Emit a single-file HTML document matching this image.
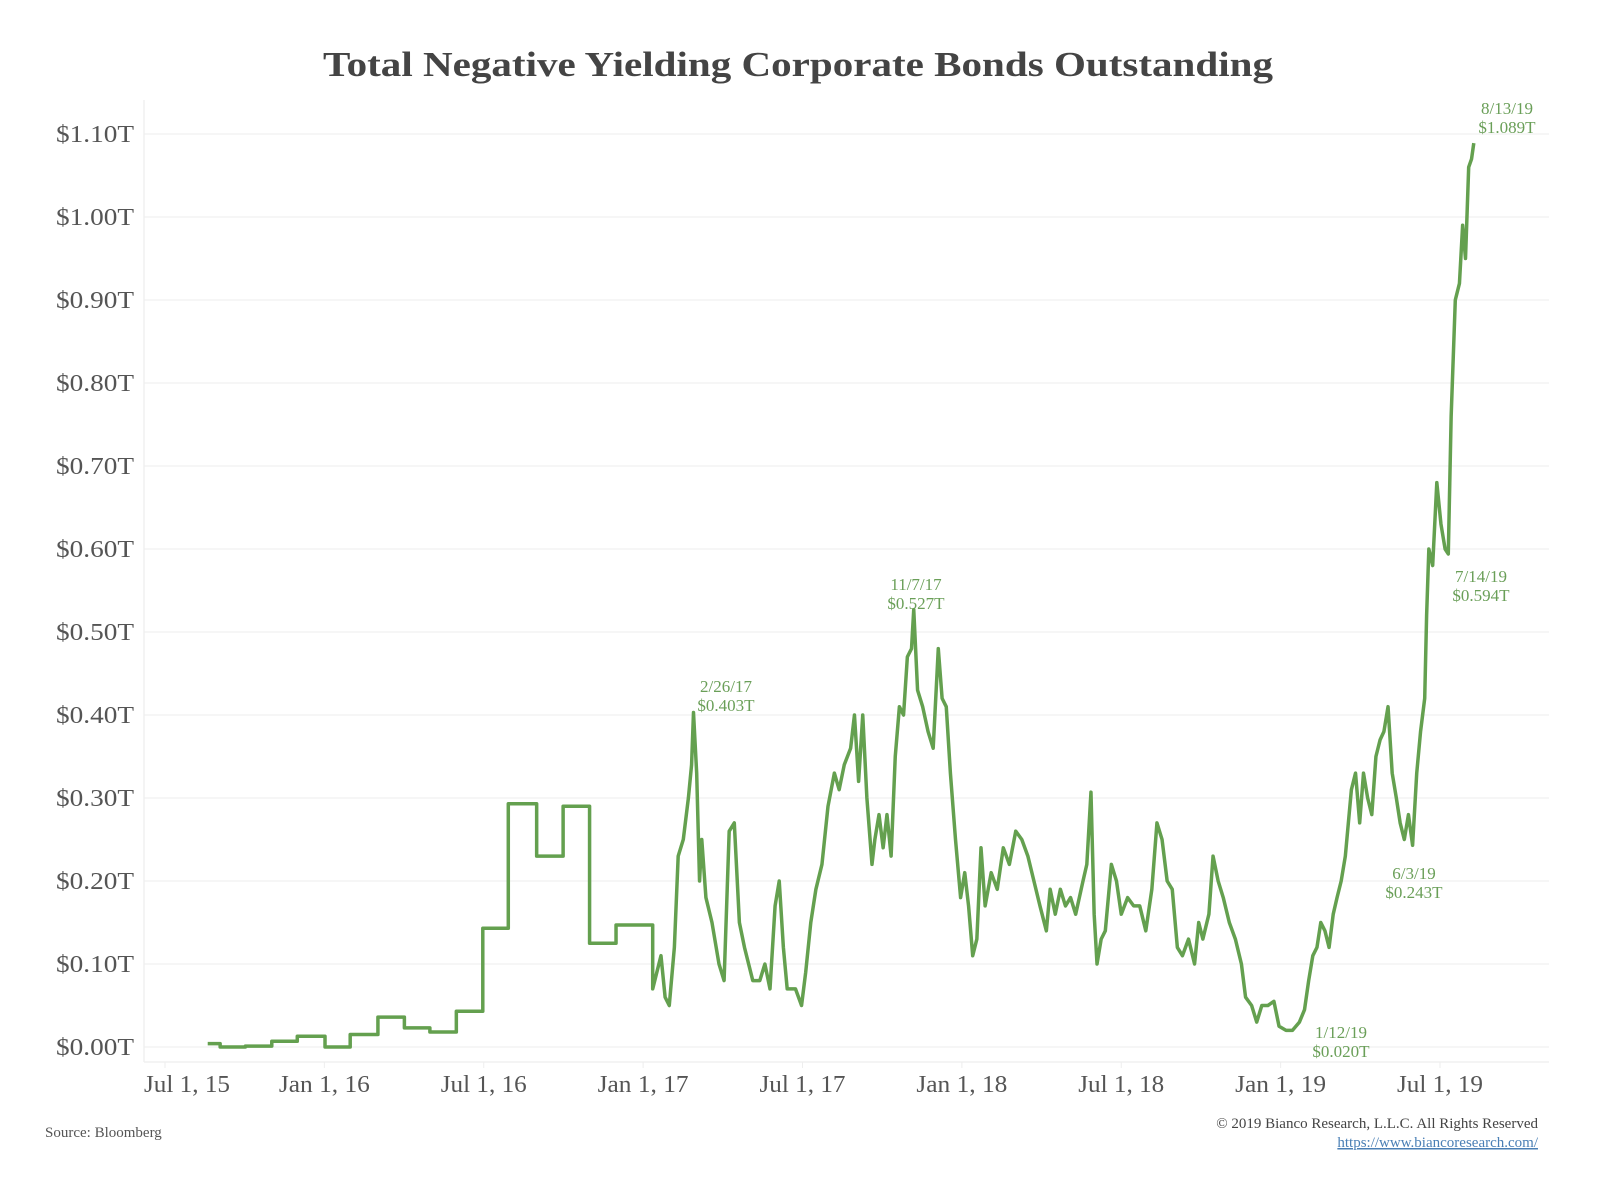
<!DOCTYPE html>
<html><head><meta charset="utf-8"><style>
body{margin:0;background:#fff;}
svg text{font-family:"Liberation Serif",serif;}
</style></head><body>
<svg width="1600" height="1182" viewBox="0 0 1600 1182" xmlns="http://www.w3.org/2000/svg">
<text x="798" y="76" text-anchor="middle" font-size="35" font-weight="bold" fill="#444" textLength="950" lengthAdjust="spacingAndGlyphs">Total Negative Yielding Corporate Bonds Outstanding</text>
<g id="grid"></g><g id="yaxis"></g><g id="xaxis"></g><g id="series"></g><g id="notes"></g>
<text x="45" y="1143" font-size="15" fill="#555" transform="translate(0,-6)">Source: Bloomberg</text>
<text x="1538" y="1133" text-anchor="end" font-size="15" fill="#444" transform="translate(0,-5)">© 2019 Bianco Research, L.L.C. All Rights Reserved</text>
<text x="1538" y="1152" text-anchor="end" font-size="15" fill="#4a7fb5" text-decoration="underline" transform="translate(0,-5)">https://www.biancoresearch.com/</text>
</svg>
<script>
const yTicks=[0,0.1,0.2,0.3,0.4,0.5,0.6,0.7,0.8,0.9,1.0,1.1];
const yTickLabels=["$0.00T","$0.10T","$0.20T","$0.30T","$0.40T","$0.50T","$0.60T","$0.70T","$0.80T","$0.90T","$1.00T","$1.10T"];
const xTicks=[2015.5,2016,2016.5,2017,2017.5,2018,2018.5,2019,2019.5];
const xTickLabels=["Jul 1, 15","Jan 1, 16","Jul 1, 16","Jan 1, 17","Jul 1, 17","Jan 1, 18","Jul 1, 18","Jan 1, 19","Jul 1, 19"];
// decimal-year dates and values ($T). Early series drawn as steps.
const stepDates=[2015.634,2015.673,2015.752,2015.835,2015.915,2016.002,2016.081,2016.168,2016.251,2016.331,2016.414,2016.497,2016.577,2016.666,2016.749,2016.832,2016.915,2017.030];
const stepValues=[0.004,0.0,0.001,0.007,0.013,0.0,0.015,0.036,0.023,0.018,0.043,0.143,0.293,0.23,0.29,0.125,0.147,0.07];
const dates=[2017.030,2017.056,2017.069,2017.082,2017.098,2017.110,2017.126,2017.142,2017.152,2017.158,2017.168,2017.177,2017.184,2017.197,2017.216,2017.238,2017.254,2017.270,2017.286,2017.302,2017.318,2017.344,2017.366,2017.382,2017.398,2017.414,2017.427,2017.440,2017.452,2017.478,2017.497,2017.510,2017.526,2017.542,2017.561,2017.580,2017.600,2017.615,2017.631,2017.651,2017.663,2017.676,2017.689,2017.702,2017.718,2017.727,2017.740,2017.753,2017.765,2017.778,2017.791,2017.804,2017.817,2017.829,2017.842,2017.849,2017.861,2017.877,2017.894,2017.910,2017.926,2017.938,2017.951,2017.964,2017.980,2017.996,2018.009,2018.021,2018.034,2018.047,2018.060,2018.073,2018.092,2018.111,2018.130,2018.149,2018.169,2018.188,2018.207,2018.226,2018.245,2018.265,2018.277,2018.293,2018.309,2018.325,2018.341,2018.357,2018.380,2018.392,2018.405,2018.415,2018.424,2018.437,2018.450,2018.469,2018.485,2018.500,2018.520,2018.539,2018.558,2018.577,2018.596,2018.612,2018.628,2018.644,2018.660,2018.676,2018.692,2018.711,2018.730,2018.743,2018.756,2018.775,2018.788,2018.804,2018.820,2018.839,2018.858,2018.877,2018.890,2018.909,2018.925,2018.941,2018.960,2018.979,2018.995,2019.017,2019.037,2019.059,2019.075,2019.088,2019.101,2019.114,2019.126,2019.139,2019.152,2019.165,2019.177,2019.190,2019.203,2019.222,2019.235,2019.248,2019.260,2019.273,2019.286,2019.299,2019.312,2019.324,2019.337,2019.350,2019.363,2019.375,2019.388,2019.401,2019.414,2019.427,2019.439,2019.452,2019.458,2019.465,2019.477,2019.490,2019.503,2019.516,2019.526,2019.535,2019.548,2019.561,2019.571,2019.580,2019.590,2019.599,2019.606];
const values=[0.07,0.11,0.06,0.05,0.12,0.23,0.25,0.30,0.34,0.403,0.33,0.20,0.25,0.18,0.15,0.10,0.08,0.26,0.27,0.15,0.12,0.08,0.08,0.10,0.07,0.17,0.20,0.12,0.07,0.07,0.05,0.09,0.15,0.19,0.22,0.29,0.33,0.31,0.34,0.36,0.40,0.32,0.40,0.30,0.22,0.25,0.28,0.24,0.28,0.23,0.35,0.41,0.40,0.47,0.48,0.527,0.43,0.41,0.38,0.36,0.48,0.42,0.41,0.33,0.25,0.18,0.21,0.17,0.11,0.13,0.24,0.17,0.21,0.19,0.24,0.22,0.26,0.25,0.23,0.20,0.17,0.14,0.19,0.16,0.19,0.17,0.18,0.16,0.20,0.22,0.307,0.16,0.10,0.13,0.14,0.22,0.20,0.16,0.18,0.17,0.17,0.14,0.19,0.27,0.25,0.20,0.19,0.12,0.11,0.13,0.10,0.15,0.13,0.16,0.23,0.20,0.18,0.15,0.13,0.10,0.06,0.05,0.03,0.05,0.05,0.055,0.025,0.020,0.02,0.03,0.045,0.08,0.11,0.12,0.15,0.14,0.12,0.16,0.18,0.20,0.23,0.31,0.33,0.27,0.33,0.30,0.28,0.35,0.37,0.38,0.41,0.33,0.30,0.27,0.25,0.28,0.243,0.33,0.38,0.42,0.52,0.60,0.58,0.68,0.63,0.60,0.594,0.76,0.90,0.92,0.99,0.95,1.06,1.07,1.089];
const noteLines1=["8/13/19","7/14/19","11/7/17","2/26/17","6/3/19","1/12/19"];
const noteLines2=["$1.089T","$0.594T","$0.527T","$0.403T","$0.243T","$0.020T"];
const noteNames=["note-peak-aug19","note-jul19","note-nov17","note-feb17","note-jun19","note-jan19-low"];
const NS="http://www.w3.org/2000/svg";
const X0=144,X1=1549,Y0=1062,Ytop=100;
const xs=t=>165+(t-2015.5)*318.75;
const ys=v=>1047-v*830;
function mk(tag,attrs,parent,text){const e=document.createElementNS(NS,tag);for(const k in attrs)e.setAttribute(k,attrs[k]);if(text!==undefined)e.textContent=text;parent.appendChild(e);return e;}
const grid=document.getElementById('grid'),ya=document.getElementById('yaxis'),xa=document.getElementById('xaxis'),ser=document.getElementById('series'),notes=document.getElementById('notes');
let l=mk('line',{x1:X0,y1:Ytop,x2:X0,y2:Y0,stroke:'#f0f0f0','stroke-width':1.5},grid);


l=mk('line',{x1:X0,y1:Y0,x2:X1,y2:Y0,stroke:'#f0f0f0','stroke-width':1.5},grid);


yTicks.forEach((v,i)=>{
 const g=mk('line',{x1:X0,y1:ys(v),x2:X1,y2:ys(v),stroke:'#eeeeee','stroke-width':1},grid);
 
 
 const t=mk('text',{x:134,y:ys(v)+8,'text-anchor':'end','font-size':24,fill:'#555',textLength:78,lengthAdjust:'spacingAndGlyphs'},ya,yTickLabels[i]);
 
 
});
xTicks.forEach((d,i)=>{
 const tk=mk('line',{x1:xs(d),y1:Y0,x2:xs(d),y2:Y0+6,stroke:'#eee','stroke-width':1},xa);
 
 
 const off=i===0?22:0;
 const t=mk('text',{x:xs(d)+off,y:1092,'text-anchor':'middle','font-size':24,fill:'#555',textLength:xTickLabels[i].startsWith('Jan')?91:86,lengthAdjust:'spacingAndGlyphs'},xa,xTickLabels[i]);
 
 
});
let d='';
stepDates.forEach((t,i)=>{
 if(i===0)d+='M'+xs(t)+','+ys(stepValues[i]);
 else d+=' H'+xs(t)+' V'+ys(stepValues[i]);
});
d+=' H'+xs(dates[0]);
dates.forEach((t,i)=>{d+=' L'+xs(t)+','+ys(values[i]);});
const p=mk('path',{d:d,fill:'none',stroke:'#64a04f','stroke-width':3.5,'stroke-linejoin':'round'},ser);


const notePos=[[1507,114],[1481,582],[916,590],[726,692],[1414,879],[1341,1038]];
noteLines1.forEach((s,i)=>{
 const g=mk('g',{},notes);
 
 
 mk('text',{x:notePos[i][0],y:notePos[i][1],'text-anchor':'middle','font-size':17,fill:'#6a9f58'},g,s);
 mk('text',{x:notePos[i][0],y:notePos[i][1]+19,'text-anchor':'middle','font-size':17,fill:'#6a9f58'},g,noteLines2[i]);
});
</script>
</body></html>
